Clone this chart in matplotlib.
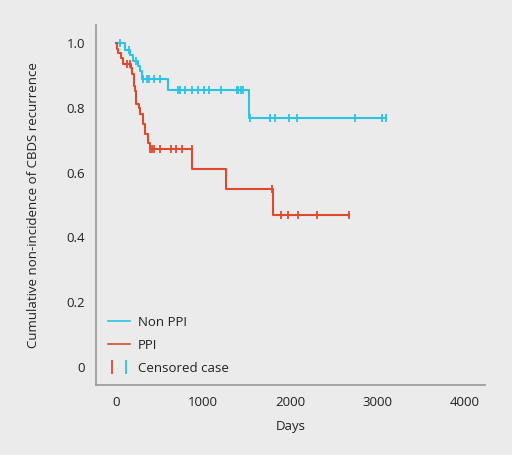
import matplotlib
matplotlib.use("Agg")
import matplotlib.pyplot as plt
import numpy as np
from matplotlib.lines import Line2D
from matplotlib.legend_handler import HandlerTuple

plt.rcParams['font.family'] = ['Open Sans', 'DejaVu Sans']

# Non PPI group (blue)
blue_times = [0, 103, 161, 195, 253, 276, 299, 598, 1529]
blue_surv = [1.0, 0.978, 0.962, 0.945, 0.929, 0.914, 0.889, 0.855, 0.769]
blue_censor = [46, 149, 230, 310, 356, 379, 437, 506, 713, 736, 793, 874, 943,
               1011, 1069, 1207, 1391, 1402, 1437, 1460, 1540, 1770, 1828,
               1989, 2080, 2747, 3057, 3103]

# PPI group (red)
red_times = [0, 11, 23, 57, 80, 172, 184, 207, 218, 230, 264, 276, 310, 333,
             368, 391, 874, 1264, 1805]
red_surv = [1.0, 0.98, 0.97, 0.954, 0.935, 0.923, 0.905, 0.868, 0.85, 0.81,
            0.8, 0.78, 0.75, 0.72, 0.69, 0.674, 0.612, 0.548, 0.47]
red_censor = [126, 161, 395, 414, 437, 506, 632, 690, 759, 870, 1793, 1897,
              1977, 2092, 2310, 2678]

xticks = [0, 1000, 2000, 3000, 4000]
yticks = [0, 0.2, 0.4, 0.6, 0.8, 1.0]
ytick_labels = ['0', '0.2', '0.4', '0.6', '0.8', '1.0']

BLUE = '#2cc3e5'
RED = '#de4a2e'
BG = '#ebebeb'

def surv_at(times, surv, t):
    idx = np.searchsorted(times, t, side='right') - 1
    return surv[idx]

fig = plt.figure(figsize=(5.12, 4.55), dpi=100, facecolor=BG)
ax = fig.add_axes([0.1875, 0.154, 0.760, 0.791])
ax.set_facecolor(BG)

for times, surv, cens, col in [(blue_times, blue_surv, blue_censor, BLUE),
                               (red_times, red_surv, red_censor, RED)]:
    end = max(max(times), max(cens))
    xs = list(times) + [end]
    ys = list(surv) + [surv[-1]]
    ax.step(xs, ys, where='post', color=col, lw=1.5)
    cy = [surv_at(times, surv, c) for c in cens]
    ax.plot(cens, cy, linestyle='none', marker='|', color=col, ms=6, mew=1.3)

ax.set_xlim(-230, 4240)
ax.set_ylim(-0.055, 1.055)
ax.set_xticks(xticks)
ax.set_xticklabels([str(x) for x in xticks])
ax.set_yticks(yticks)
ax.set_yticklabels(ytick_labels)
ax.tick_params(length=0, labelsize=9.5, colors='#222222', pad=8)
for s in ['top', 'right']:
    ax.spines[s].set_visible(False)
for s in ['left', 'bottom']:
    ax.spines[s].set_color('#999999')
    ax.spines[s].set_linewidth(1.2)

ax.set_xlabel('Days', fontsize=9.5, color='#222222', labelpad=8)
ax.set_ylabel('Cumulative non-incidence of CBDS recurrence', fontsize=9.5,
              color='#222222', labelpad=19)

h_blue = Line2D([], [], color=BLUE, lw=1.2)
h_red = Line2D([], [], color=RED, lw=1.2)
h_cr = Line2D([], [], color=RED, marker='|', linestyle='none', ms=10, mew=1.3)
h_cb = Line2D([], [], color=BLUE, marker='|', linestyle='none', ms=10, mew=1.3)
ax.legend([h_blue, h_red, (h_cr, h_cb)], ['Non PPI', 'PPI', 'Censored case'],
          handler_map={tuple: HandlerTuple(ndivide=None, pad=0.3)},
          loc='lower left', bbox_to_anchor=(0.0, -0.005), frameon=False,
          fontsize=9.5, handlelength=1.7, handletextpad=0.6, labelspacing=0.75,
          labelcolor='#222222')

fig.savefig('out.png', dpi=100, facecolor=BG)
